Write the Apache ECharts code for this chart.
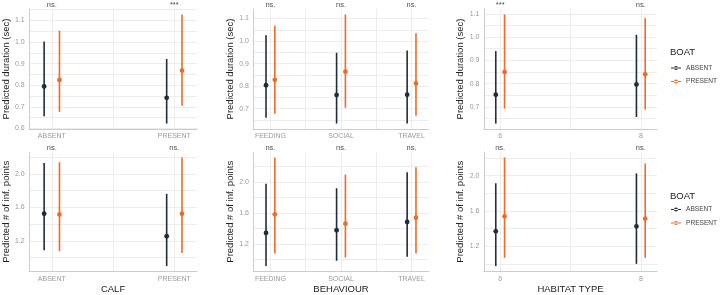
<!DOCTYPE html>
<html>
<head>
<meta charset="utf-8">
<script src="https://cdn.jsdelivr.net/npm/echarts@6/dist/echarts.min.js"></script>
<style>
  html, body { margin: 0; padding: 0; background: #fff; }
  #chart { width: 720px; height: 295px; }
</style>
</head>
<body>
<div id="chart"></div>
<script>
// levels of each predictor
const calfCats = ['ABSENT', 'PRESENT']
const behavCats = ['FEEDING', 'SOCIAL', 'TRAVEL']
const habitatCats = [6, 8]

// [estimate, lower, upper] for each level
const durCalfAbsent = [[0.795, 0.657, 1.003], [0.742, 0.623, 0.922]]
const durCalfPresent = [[0.825, 0.677, 1.053], [0.868, 0.705, 1.128]]
const durBehavAbsent = [[0.804, 0.66, 1.026], [0.761, 0.634, 0.948], [0.762, 0.634, 0.958]]
const durBehavPresent = [[0.828, 0.678, 1.069], [0.864, 0.704, 1.118], [0.812, 0.669, 1.035]]
const durHabAbsent = [[0.753, 0.629, 0.94], [0.797, 0.657, 1.01]]
const durHabPresent = [[0.85, 0.693, 1.097], [0.84, 0.689, 1.081]]

const infCalfAbsent = [[1.525, 1.09, 2.131], [1.256, 0.9, 1.763]]
const infCalfPresent = [[1.517, 1.078, 2.14], [1.525, 1.057, 2.197]]
const infBehavAbsent = [[1.345, 0.918, 1.978], [1.38, 0.986, 1.922], [1.486, 1.037, 2.127]]
const infBehavPresent = [[1.585, 1.08, 2.319], [1.465, 1.029, 2.097], [1.542, 1.08, 2.191]]
const infHabAbsent = [[1.369, 0.975, 1.913], [1.425, 1.0, 2.026]]
const infHabPresent = [[1.538, 1.068, 2.206], [1.512, 1.068, 2.139]]

// significance labels above each level
const sigDurCalf = ['ns.', '***']
const sigDurBehav = ['ns.', 'ns.', 'ns.']
const sigDurHab = ['***', 'ns.']
const sigInfCalf = ['ns.', 'ns.']
const sigInfBehav = ['ns.', 'ns.', 'ns.']
const sigInfHab = ['ns.', 'ns.']

// y tick labels and grid lines
const durTicks = [0.6, 0.7, 0.8, 0.9, 1.0, 1.1]
const durGrid = [0.6, 0.65, 0.7, 0.75, 0.8, 0.85, 0.9, 0.95, 1.0, 1.05, 1.1, 1.15]
const infTicks = [1.2, 1.6, 2.0]
const infGrid = [1.0, 1.2, 1.4, 1.6, 1.8, 2.0, 2.2]

const COL_ABSENT = '#202d3b'
const COL_PRESENT = '#f06b25'
const FONT = 'Liberation Sans, Arial, sans-serif'
const DODGE = 0.0625

const panels = [
  { cats: calfCats, xs: [1, 2], xMin: 0.815, xMax: 2.185, xGrid: [1, 1.5, 2], absent: durCalfAbsent, present: durCalfPresent, sig: sigDurCalf, row: 0, col: 0, xName: '' },
  { cats: behavCats, xs: [1, 2, 3], xMin: 0.76, xMax: 3.24, xGrid: [1, 1.5, 2, 2.5, 3], absent: durBehavAbsent, present: durBehavPresent, sig: sigDurBehav, row: 0, col: 1, xName: '' },
  { cats: habitatCats, xs: habitatCats, xMin: 5.77, xMax: 8.23, xGrid: [6, 7, 8], absent: durHabAbsent, present: durHabPresent, sig: sigDurHab, row: 0, col: 2, xName: '' },
  { cats: calfCats, xs: [1, 2], xMin: 0.815, xMax: 2.185, xGrid: [1, 1.5, 2], absent: infCalfAbsent, present: infCalfPresent, sig: sigInfCalf, row: 1, col: 0, xName: 'CALF' },
  { cats: behavCats, xs: [1, 2, 3], xMin: 0.76, xMax: 3.24, xGrid: [1, 1.5, 2, 2.5, 3], absent: infBehavAbsent, present: infBehavPresent, sig: sigInfBehav, row: 1, col: 1, xName: 'BEHAVIOUR' },
  { cats: habitatCats, xs: habitatCats, xMin: 5.77, xMax: 8.23, xGrid: [6, 7, 8], absent: infHabAbsent, present: infHabPresent, sig: sigInfHab, row: 1, col: 2, xName: 'HABITAT TYPE' }
]

const gridLeft = [24, 253.5, 484]
const gridWidth = [173, 175, 173]
const gridTop = [9, 152]
const yNames = ['Predicted duration (sec)', 'Predicted # of inf. points']

function renderPointRange(params, api) {
  const x = api.value(0)
  const mid = api.coord([x, api.value(1)])
  const lo = api.coord([x, api.value(2)])
  const hi = api.coord([x, api.value(3)])
  const color = api.visual('color')
  return {
    type: 'group',
    children: [
      { type: 'line', shape: { x1: hi[0], y1: hi[1], x2: lo[0], y2: lo[1] }, style: { stroke: color, lineWidth: 1.6 } },
      { type: 'circle', shape: { cx: mid[0], cy: mid[1], r: 2.4 }, style: { fill: color } }
    ]
  }
}

const grid = []
const xAxis = []
const yAxis = []
const series = []

panels.forEach((p, i) => {
  grid.push({ left: gridLeft[p.col], width: gridWidth[p.col], top: gridTop[p.row], height: 120 })

  const all = p.absent.concat(p.present)
  const lo = Math.min(...all.map(d => d[1]))
  const hi = Math.max(...all.map(d => d[2]))
  const pad = (hi - lo) * 0.05

  xAxis.push({
    type: 'value', gridIndex: i, min: p.xMin, max: p.xMax,
    name: p.xName, nameLocation: 'middle', nameGap: 12.5,
    nameTextStyle: { fontFamily: FONT, fontSize: 9.5, color: '#222' },
    axisLine: { show: true, lineStyle: { color: '#cccccc', width: 1 } },
    axisTick: { show: false, customValues: p.xGrid },
    axisLabel: {
      customValues: p.xs, margin: 4, fontFamily: FONT, fontSize: 7, color: '#9a9a9a',
      formatter: v => String(p.cats[p.xs.indexOf(v)])
    },
    splitLine: { show: true, lineStyle: { color: '#ededed', width: 1 } }
  })

  yAxis.push({
    type: 'value', gridIndex: i, min: lo - pad, max: hi + pad,
    name: yNames[p.row], nameLocation: 'middle', nameGap: 14,
    nameTextStyle: { fontFamily: FONT, fontSize: 9.5, color: '#222' },
    axisLine: { show: true, lineStyle: { color: '#cccccc', width: 1 } },
    axisTick: { show: false, customValues: p.row === 0 ? durGrid : infGrid },
    axisLabel: {
      customValues: p.row === 0 ? durTicks : infTicks, margin: 4.5,
      fontFamily: FONT, fontSize: 7, color: '#9a9a9a',
      formatter: v => v.toFixed(1)
    },
    splitLine: { show: true, lineStyle: { color: '#ededed', width: 1 } }
  })

  series.push({
    name: 'ABSENT', type: 'custom', xAxisIndex: i, yAxisIndex: i,
    itemStyle: { color: COL_ABSENT },
    renderItem: renderPointRange, encode: { x: 0, y: [1, 2, 3] },
    data: p.absent.map((d, k) => [p.xs[k] - DODGE, d[0], d[1], d[2]])
  })
  series.push({
    name: 'PRESENT', type: 'custom', xAxisIndex: i, yAxisIndex: i,
    itemStyle: { color: COL_PRESENT },
    renderItem: renderPointRange, encode: { x: 0, y: [1, 2, 3] },
    data: p.present.map((d, k) => [p.xs[k] + DODGE, d[0], d[1], d[2]])
  })
  series.push({
    name: 'sig', type: 'scatter', xAxisIndex: i, yAxisIndex: i,
    symbolSize: 1, itemStyle: { color: 'transparent' }, silent: true, clip: false,
    label: {
      show: true, position: 'top', distance: 0,
      fontFamily: FONT, fontSize: 7.5, color: '#222',
      formatter: params => p.sig[params.dataIndex]
    },
    data: p.xs.map(x => [x, hi + pad])
  })
})

const legendIcon = 'path://M0,1.4L10,1.4L10,2.6L0,2.6Z M3,2A2,2,0,1,0,7,2A2,2,0,1,0,3,2Z'
const legendBase = {
  orient: 'vertical', left: 671, padding: 0, itemWidth: 10, itemHeight: 4, itemGap: 6.5,
  icon: legendIcon, data: ['ABSENT', 'PRESENT'],
  textStyle: { fontFamily: FONT, fontSize: 6.6, color: '#444' }
}
const titleText = { fontFamily: FONT, fontSize: 9.5, fontWeight: 'normal', color: '#222' }

const chart = echarts.init(document.getElementById('chart'))
chart.setOption({
  animation: false,
  title: [
    { text: 'BOAT', left: 670, top: 47.5, padding: 0, textStyle: titleText },
    { text: 'BOAT', left: 670, top: 191.5, padding: 0, textStyle: titleText }
  ],
  legend: [
    Object.assign({}, legendBase, { top: 64.5 }),
    Object.assign({}, legendBase, { top: 206 })
  ],
  grid: grid,
  xAxis: xAxis,
  yAxis: yAxis,
  series: series
})
</script>
</body>
</html>
